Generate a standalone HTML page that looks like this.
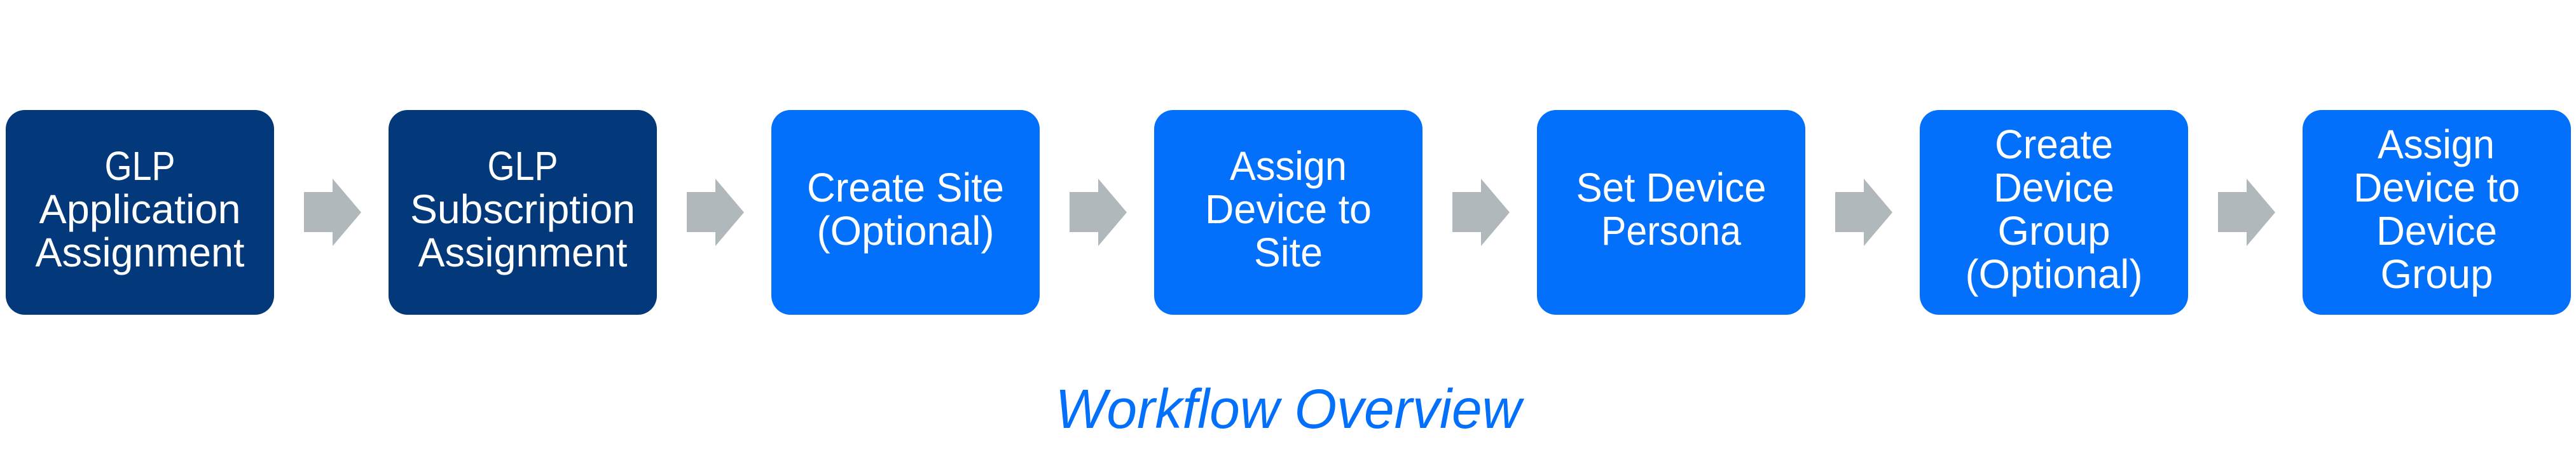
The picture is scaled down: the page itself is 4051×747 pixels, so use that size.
<!DOCTYPE html>
<html lang="en">
<head>
<meta charset="utf-8">
<title>Workflow Overview</title>
<style>
html,body{margin:0;padding:0;background:#fff;width:4051px;height:747px;overflow:hidden}
svg{display:block}
text{font-family:"Liberation Sans",Arial,sans-serif}
.t{font-size:64px;fill:#fff;text-anchor:middle}
</style>
</head>
<body>
<svg width="4051" height="747" viewBox="0 0 4051 747" xmlns="http://www.w3.org/2000/svg">
<rect width="4051" height="747" fill="#fff"/>
<g>
<rect x="9" y="173" width="422" height="322" rx="30" fill="#03397B"/>
<rect x="611" y="173" width="422" height="322" rx="30" fill="#03397B"/>
<rect x="1213" y="173" width="422" height="322" rx="30" fill="#0370FB"/>
<rect x="1815" y="173" width="422" height="322" rx="30" fill="#0370FB"/>
<rect x="2417" y="173" width="422" height="322" rx="30" fill="#0370FB"/>
<rect x="3019" y="173" width="422" height="322" rx="30" fill="#0370FB"/>
<rect x="3621" y="173" width="422" height="322" rx="30" fill="#0370FB"/>
</g>
<g fill="#B1B8BC">
<polygon points="478,302 523,302 523,281 568,334 523,387 523,365 478,365"/>
<polygon points="1080,302 1125,302 1125,281 1170,334 1125,387 1125,365 1080,365"/>
<polygon points="1682,302 1727,302 1727,281 1772,334 1727,387 1727,365 1682,365"/>
<polygon points="2284,302 2329,302 2329,281 2374,334 2329,387 2329,365 2284,365"/>
<polygon points="2886,302 2931,302 2931,281 2976,334 2931,387 2931,365 2886,365"/>
<polygon points="3488,302 3533,302 3533,281 3578,334 3533,387 3533,365 3488,365"/>
</g>
<g>
<text class="t" x="220" y="283" textLength="111" lengthAdjust="spacingAndGlyphs">GLP</text>
<text class="t" x="220" y="351" textLength="317" lengthAdjust="spacingAndGlyphs">Application</text>
<text class="t" x="220" y="419" textLength="329" lengthAdjust="spacingAndGlyphs">Assignment</text>

<text class="t" x="822" y="283" textLength="111" lengthAdjust="spacingAndGlyphs">GLP</text>
<text class="t" x="822" y="351" textLength="354" lengthAdjust="spacingAndGlyphs">Subscription</text>
<text class="t" x="822" y="419" textLength="329" lengthAdjust="spacingAndGlyphs">Assignment</text>

<text class="t" x="1424" y="317" textLength="310" lengthAdjust="spacingAndGlyphs">Create Site</text>
<text class="t" x="1424" y="385" textLength="279" lengthAdjust="spacingAndGlyphs">(Optional)</text>

<text class="t" x="2026" y="283" textLength="184" lengthAdjust="spacingAndGlyphs">Assign</text>
<text class="t" x="2026" y="351" textLength="262" lengthAdjust="spacingAndGlyphs">Device to</text>
<text class="t" x="2026" y="419" textLength="108" lengthAdjust="spacingAndGlyphs">Site</text>

<text class="t" x="2628" y="317" textLength="299" lengthAdjust="spacingAndGlyphs">Set Device</text>
<text class="t" x="2628" y="385" textLength="220" lengthAdjust="spacingAndGlyphs">Persona</text>

<text class="t" x="3230" y="249" textLength="186" lengthAdjust="spacingAndGlyphs">Create</text>
<text class="t" x="3230" y="317" textLength="190" lengthAdjust="spacingAndGlyphs">Device</text>
<text class="t" x="3230" y="385" textLength="177" lengthAdjust="spacingAndGlyphs">Group</text>
<text class="t" x="3230" y="453" textLength="279" lengthAdjust="spacingAndGlyphs">(Optional)</text>

<text class="t" x="3831" y="249" textLength="184" lengthAdjust="spacingAndGlyphs">Assign</text>
<text class="t" x="3832" y="317" textLength="262" lengthAdjust="spacingAndGlyphs">Device to</text>
<text class="t" x="3832" y="385" textLength="190" lengthAdjust="spacingAndGlyphs">Device</text>
<text class="t" x="3832" y="453" textLength="177" lengthAdjust="spacingAndGlyphs">Group</text>
</g>
<text x="2026" y="673" text-anchor="middle" font-size="87" font-style="italic" fill="#0370FB" textLength="733" lengthAdjust="spacingAndGlyphs">Workflow Overview</text>
</svg>
</body>
</html>
